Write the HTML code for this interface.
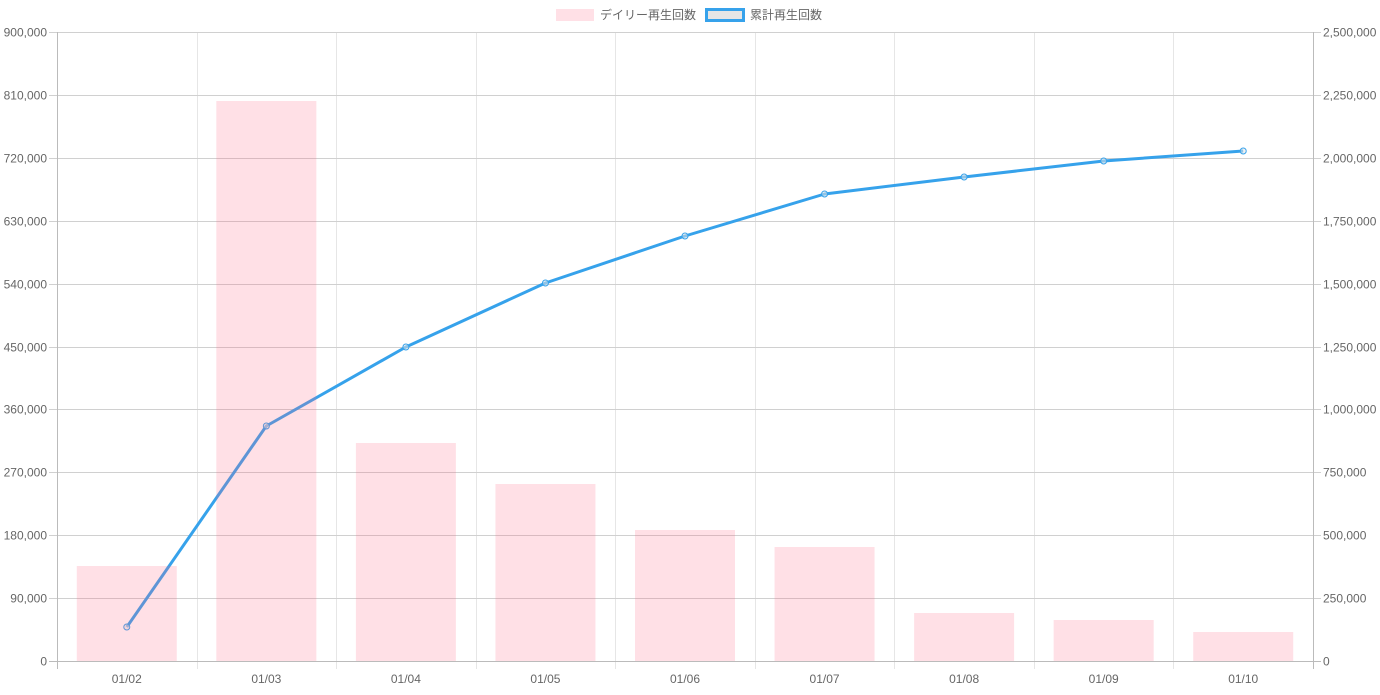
<!DOCTYPE html>
<html><head><meta charset="utf-8"><style>
html,body{margin:0;padding:0;background:#fff;}
svg text{font-family:"Liberation Sans","Noto Sans CJK JP",sans-serif;font-size:12px;fill:#666;}
</style></head><body>
<svg id="c" width="1380" height="690" xmlns="http://www.w3.org/2000/svg"></svg>
<script>
var s='';
var L=57,R=1313,T=32,B=661,H=B-T,W=(R-L)/9;
// vertical grid
for(var i=0;i<=9;i++){var x=Math.round(L+i*W)+0.5;s+='<line x1="'+x+'" y1="'+T+'" x2="'+x+'" y2="669" stroke="#e6e6e6"/>';}
// horizontal grid + labels
var lv=['0','90,000','180,000','270,000','360,000','450,000','540,000','630,000','720,000','810,000','900,000'];
var rv=['0','250,000','500,000','750,000','1,000,000','1,250,000','1,500,000','1,750,000','2,000,000','2,250,000','2,500,000'];
for(var i=0;i<=10;i++){var y=Math.round(B-i*H/10)+0.5;
s+='<line x1="49" y1="'+y+'" x2="1321" y2="'+y+'" stroke="'+(i==0?'#bbb':'#d0d0d0')+'"/>';
s+='<text x="47" y="'+(y+4)+'" text-anchor="end">'+lv[i]+'</text>';
s+='<text x="1323" y="'+(y+4)+'">'+rv[rv.length-1-(10-i)]+'</text>';}
s+='<line x1="'+(L+0.5)+'" y1="'+T+'" x2="'+(L+0.5)+'" y2="669" stroke="#bbb"/>';
s+='<line x1="'+(R+0.5)+'" y1="'+T+'" x2="'+(R+0.5)+'" y2="669" stroke="#bbb"/>';
var lab=['01/02','01/03','01/04','01/05','01/06','01/07','01/08','01/09','01/10'];
var bt=[566,101,443,484,530,547,613,620,632];
var lp=[627,426,347,283,236,194,177,161,151];
var pts=[];
for(var i=0;i<9;i++){var cx=L+W*(i+0.5);pts.push(cx.toFixed(1)+','+lp[i]);
s+='<text x="'+cx+'" y="683" text-anchor="middle">'+lab[i]+'</text>';}
s+='<polyline points="'+pts.join(' ')+'" fill="none" stroke="#36a2eb" stroke-width="3" stroke-linejoin="round"/>';
for(var i=0;i<9;i++){var cx=L+W*(i+0.5);s+='<circle cx="'+cx+'" cy="'+lp[i]+'" r="3" fill="#e6e6e6" fill-opacity="0.5" stroke="#36a2eb" stroke-width="1"/>';}
for(var i=0;i<9;i++){var cx=L+W*(i+0.5);s+='<rect x="'+(cx-50)+'" y="'+bt[i]+'" width="100" height="'+(B-bt[i])+'" fill="rgb(255,99,132)" fill-opacity="0.2"/>';}
// legend
s+='<rect x="556" y="9" width="38" height="12" fill="rgb(255,99,132)" fill-opacity="0.2"/>';
s+='<text x="600" y="19">デイリー再生回数</text>';
s+='<rect x="706.5" y="9.5" width="37" height="11" fill="#e6e6e6" stroke="#36a2eb" stroke-width="3"/>';
s+='<text x="750" y="19">累計再生回数</text>';
document.getElementById('c').innerHTML=s;
</script>
</body></html>
